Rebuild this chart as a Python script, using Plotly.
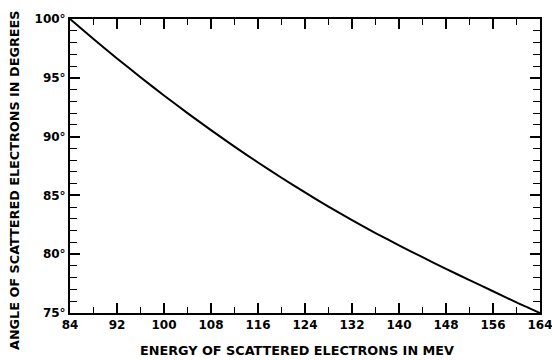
import plotly.graph_objects as go

energy_mev = [84, 88, 92, 96, 100, 104, 108, 112, 116, 120, 124, 128, 132, 136, 140, 144, 148, 152, 156, 160, 164]
angle_deg = [100.0, 98.3, 96.65, 95.05, 93.5, 92.0, 90.55, 89.15, 87.8, 86.5, 85.25, 84.05, 82.9, 81.8, 80.75, 79.75, 78.75, 77.8, 76.85, 75.9, 75.0]

x_ticks = [84, 92, 100, 108, 116, 124, 132, 140, 148, 156, 164]
y_ticks = [75, 80, 85, 90, 95, 100]
y_tick_labels = ["75°", "80°", "85°", "90°", "95°", "100°"]
x_title = "ENERGY OF SCATTERED ELECTRONS IN MEV"
y_title = "ANGLE OF SCATTERED ELECTRONS IN DEGREES"

fig = go.Figure()
fig.add_trace(go.Scatter(x=energy_mev, y=angle_deg, mode="lines",
                         line=dict(color="black", width=2, shape="spline", smoothing=0.6),
                         showlegend=False))

font = dict(family="DejaVu Sans", color="black")
tickfont = dict(size=12, family="DejaVu Sans", weight="bold", color="black")
titlefont = dict(size=12.8, family="DejaVu Sans", weight="bold", color="black")
fig.update_layout(
    width=552, height=360,
    margin=dict(l=70, r=12, t=19, b=47),
    paper_bgcolor="white", plot_bgcolor="white",
    font=font,
    annotations=[
        dict(text=x_title, xref="paper", yref="paper", x=0.483, y=-0.126,
             xanchor="center", yanchor="middle", showarrow=False, font=titlefont),
        dict(text=y_title, xref="paper", yref="paper", x=-0.117, y=0.449, textangle=-90,
             xanchor="center", yanchor="middle", showarrow=False, font=titlefont),
    ],
)
fig.update_xaxes(
    range=[84, 164], tickvals=x_ticks, ticks="inside", ticklen=10, tickwidth=1.5,
    tickcolor="black", showline=True, linecolor="black", linewidth=2, mirror="ticks",
    showgrid=False, zeroline=False, tickfont=tickfont, automargin=False, ticklabeloverflow="allow",
    minor=dict(dtick=4, tick0=84, ticks="inside", ticklen=6, tickwidth=1.2, tickcolor="black", showgrid=False),
)
fig.update_yaxes(
    range=[75, 100], tickvals=y_ticks, ticktext=y_tick_labels, ticks="inside", ticklen=10, tickwidth=1.5,
    tickcolor="black", showline=True, linecolor="black", linewidth=2, mirror="ticks",
    showgrid=False, zeroline=False, tickfont=tickfont, automargin=False, ticklabeloverflow="allow",
    minor=dict(dtick=1, tick0=75, ticks="inside", ticklen=7, tickwidth=1.2, tickcolor="black", showgrid=False),
)
fig.write_html("out.html", config={"displayModeBar": False},
               post_script="document.body.style.margin='0';document.body.style.overflow='hidden';")
